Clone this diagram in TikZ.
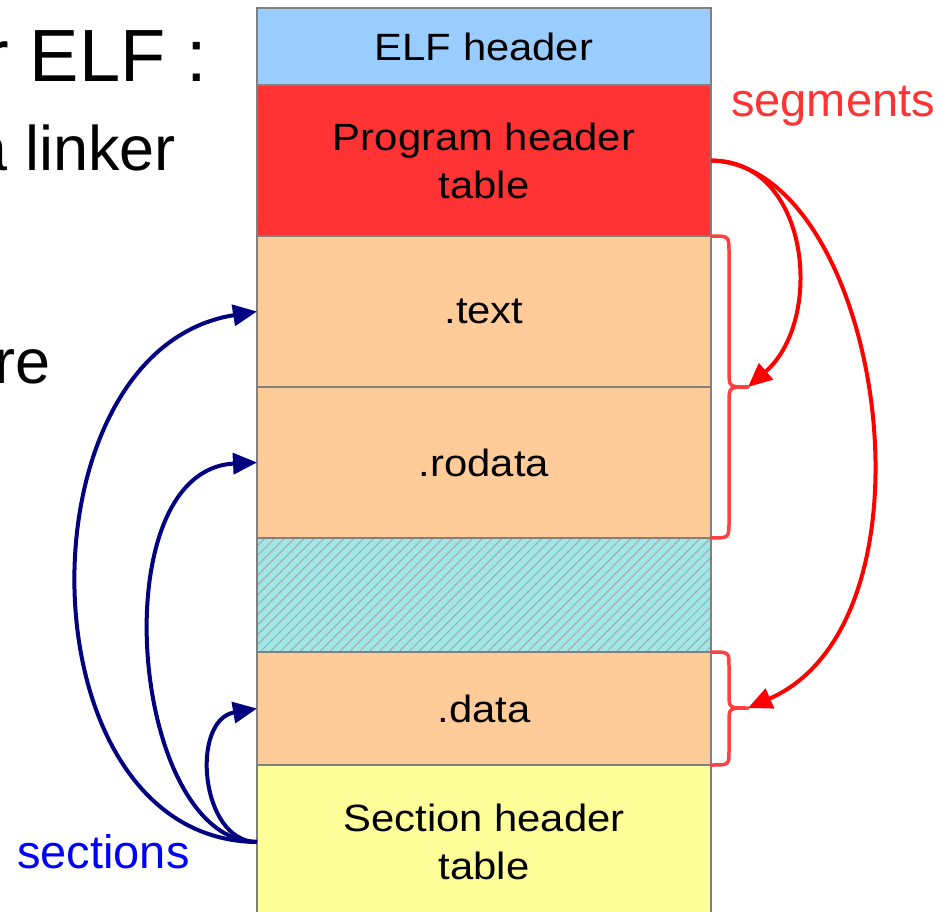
\documentclass[tikz,border=0pt]{standalone}
\usepackage{fontspec}
\setmainfont{Liberation Sans}
\newfontfamily\boxfont[FakeStretch=1.1]{Liberation Sans}
\usetikzlibrary{positioning,arrows.meta,patterns.meta}
\definecolor{elfblue}{HTML}{99CCFF}
\definecolor{phtred}{HTML}{FF3333}
\definecolor{secpeach}{HTML}{FFCC99}
\definecolor{gapcyan}{HTML}{A0E8E8}
\definecolor{shtyellow}{HTML}{FFFF99}
\definecolor{edgegray}{HTML}{808080}
\definecolor{bracered}{HTML}{FF4040}
\definecolor{secnavy}{HTML}{000080}
\tikzset{
  part/.style={draw=edgegray, line width=1.5pt, minimum width=454pt, inner sep=0pt, outer sep=0pt,
    align=center, font=\boxfont\fontsize{38}{48}\selectfont},
  segarrow/.style={-{Triangle[length=24pt,width=21pt]}, line width=4pt, red},
  secarrow/.style={-{Triangle[length=24pt,width=21pt]}, line width=4pt, secnavy},
  segbrace/.style={line width=3.5pt, bracered, line join=round, line cap=round}
}
\begin{document}
\begin{tikzpicture}[x=1pt,y=-1pt]
\useasboundingbox (0,0) rectangle (946,912);
% slide text, cut at the left edge
\node[anchor=base east, inner sep=0pt, font=\fontsize{74}{80}\selectfont] (title) at (207,82) {r ELF :};
\node[anchor=base east, inner sep=0pt, font=\fontsize{63}{70}\selectfont] (linker) at (176,171) {a linker};
\node[anchor=base east, inner sep=0pt, font=\fontsize{63}{70}\selectfont] (rest) at (51,383) {re};
% the file, top to bottom
\node[part, fill=elfblue, minimum height=77pt] (elf) at (484,46.5) {ELF header};
\node[part, fill=phtred, minimum height=151pt, below=0pt of elf] (pht) {Program header\\table};
\node[part, fill=secpeach, minimum height=151pt, below=0pt of pht] (text) {.text};
\node[part, fill=secpeach, minimum height=151pt, below=0pt of text] (rodata) {.rodata};
\node[part, preaction={fill=gapcyan}, pattern={Lines[angle=45,distance=7pt,line width=1pt]},
  pattern color=edgegray!70, minimum height=114pt, below=0pt of rodata] (gap) {};
\node[part, fill=secpeach, minimum height=113pt, below=0pt of gap] (data) {.data};
\node[part, fill=shtyellow, minimum height=154pt, below=0pt of data] (sht) {Section header\\table};
% segments
\draw[segbrace] (711,236) .. controls (729,236) .. (729,252) -- (729,371) .. controls (729,387) .. (748,387)
  .. controls (729,387) .. (729,403) -- (729,522) .. controls (729,538) .. (711,538);
\draw[segbrace] (711,652) .. controls (729,652) .. (729,666) -- (729,694) .. controls (729,708) .. (748,708)
  .. controls (729,708) .. (729,722) -- (729,751) .. controls (729,765) .. (711,765);
\coordinate (tipA) at (748,387);
\coordinate (tipB) at (748,708);
\draw[segarrow] (pht.east) .. controls (810,160) and (825,320) .. (tipA);
\draw[segarrow] (pht.east) .. controls (880,165) and (950,620) .. (tipB);
\node[anchor=base west, inner sep=0pt, text=phtred, font=\fontsize{47}{50}\selectfont] (seglabel) at (731,117) {segments};
% sections
\draw[secarrow] (sht.west) .. controls (20,840) and (15,350) .. (text.west);
\draw[secarrow] (sht.west) .. controls (130,842) and (100,470) .. (rodata.west);
\draw[secarrow] (sht.west) .. controls (200,842) and (190,720) .. (data.west);
\node[anchor=base west, inner sep=0pt, text=blue, font=\fontsize{47}{50}\selectfont] (seclabel) at (17,868) {sections};
\end{tikzpicture}
\end{document}
